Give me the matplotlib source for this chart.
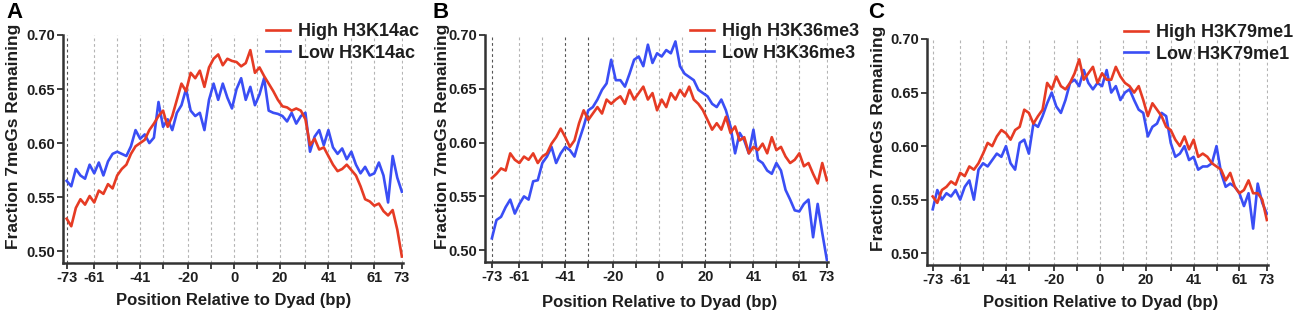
#!/usr/bin/env python3
import numpy as np
import matplotlib
matplotlib.use('Agg')
import matplotlib.pyplot as plt

plt.rcParams['font.family'] = ['Liberation Sans', 'DejaVu Sans']
plt.rcParams['font.weight'] = 'bold'

# position relative to dyad (bp), one reading every 2 bp
pos = list(range(-73, 74, 2))

xticks = [-73, -61, -51, -41, -31, -20, -10, 0, 10, 20, 31, 41, 51, 61, 73]
xtick_labels = ['-73', '-61', '', '-41', '', '-20', '', '0', '', '20', '', '41', '', '61', '73']
yticks = [0.50, 0.55, 0.60, 0.65, 0.70]

# panel A
high_k14 = [0.530, 0.523, 0.540, 0.548, 0.543, 0.551, 0.545, 0.556, 0.553, 0.562,
            0.558, 0.570, 0.576, 0.580, 0.590, 0.597, 0.600, 0.603, 0.612, 0.618,
            0.625, 0.630, 0.615, 0.625, 0.640, 0.655, 0.648, 0.665, 0.660, 0.667,
            0.652, 0.670, 0.678, 0.682, 0.672, 0.678, 0.676, 0.675, 0.671, 0.674,
            0.686, 0.665, 0.670, 0.662, 0.655, 0.648, 0.640, 0.634, 0.633, 0.630,
            0.632, 0.630, 0.622, 0.598, 0.604, 0.594, 0.596, 0.588, 0.580, 0.574,
            0.576, 0.580, 0.575, 0.570, 0.560, 0.548, 0.546, 0.542, 0.544, 0.537,
            0.533, 0.538, 0.520, 0.495]
low_k14 = [0.565, 0.560, 0.576, 0.570, 0.567, 0.580, 0.572, 0.582, 0.570, 0.583,
           0.590, 0.592, 0.590, 0.588, 0.597, 0.612, 0.604, 0.608, 0.600, 0.605,
           0.638, 0.615, 0.622, 0.612, 0.628, 0.635, 0.650, 0.630, 0.625, 0.628,
           0.612, 0.640, 0.655, 0.640, 0.655, 0.642, 0.632, 0.650, 0.660, 0.640,
           0.652, 0.635, 0.645, 0.660, 0.630, 0.628, 0.627, 0.625, 0.620, 0.628,
           0.618, 0.625, 0.628, 0.592, 0.606, 0.612, 0.598, 0.612, 0.596, 0.590,
           0.595, 0.585, 0.592, 0.580, 0.572, 0.578, 0.570, 0.572, 0.582, 0.570,
           0.545, 0.588, 0.568, 0.555]

# panel B
high_k36 = [0.567, 0.571, 0.576, 0.574, 0.590, 0.584, 0.581, 0.587, 0.584, 0.590,
            0.581, 0.587, 0.590, 0.599, 0.605, 0.613, 0.605, 0.596, 0.602, 0.618,
            0.630, 0.621, 0.627, 0.633, 0.627, 0.640, 0.636, 0.640, 0.643, 0.636,
            0.649, 0.640, 0.646, 0.652, 0.640, 0.646, 0.630, 0.640, 0.633, 0.646,
            0.640, 0.649, 0.643, 0.652, 0.640, 0.636, 0.630, 0.621, 0.612, 0.618,
            0.612, 0.624, 0.609, 0.615, 0.602, 0.605, 0.590, 0.596, 0.593, 0.599,
            0.590, 0.605, 0.593, 0.596, 0.587, 0.581, 0.584, 0.590, 0.578, 0.581,
            0.571, 0.562, 0.581, 0.565]
low_k36 = [0.511, 0.528, 0.531, 0.540, 0.547, 0.534, 0.543, 0.550, 0.547, 0.564,
           0.565, 0.581, 0.587, 0.596, 0.581, 0.590, 0.596, 0.593, 0.587, 0.602,
           0.615, 0.630, 0.633, 0.640, 0.649, 0.655, 0.677, 0.658, 0.658, 0.652,
           0.664, 0.677, 0.680, 0.671, 0.691, 0.674, 0.683, 0.680, 0.686, 0.683,
           0.694, 0.671, 0.664, 0.661, 0.658, 0.649, 0.646, 0.643, 0.636, 0.633,
           0.640, 0.630, 0.615, 0.590, 0.609, 0.602, 0.590, 0.612, 0.584, 0.581,
           0.574, 0.571, 0.581, 0.574, 0.556, 0.547, 0.537, 0.536, 0.543, 0.547,
           0.512, 0.543, 0.516, 0.491]

# panel C
high_k79 = [0.553, 0.547, 0.559, 0.562, 0.567, 0.564, 0.575, 0.572, 0.581, 0.578,
            0.584, 0.593, 0.603, 0.600, 0.609, 0.615, 0.612, 0.606, 0.615, 0.618,
            0.634, 0.631, 0.621, 0.628, 0.634, 0.659, 0.653, 0.665, 0.656, 0.653,
            0.659, 0.668, 0.681, 0.662, 0.668, 0.674, 0.659, 0.668, 0.662, 0.662,
            0.674, 0.665, 0.659, 0.656, 0.650, 0.656, 0.643, 0.628, 0.640, 0.634,
            0.628, 0.618, 0.615, 0.606, 0.600, 0.609, 0.597, 0.606, 0.590, 0.593,
            0.590, 0.584, 0.581, 0.578, 0.568, 0.575, 0.562, 0.556, 0.559, 0.568,
            0.556, 0.556, 0.550, 0.531]
low_k79 = [0.541, 0.559, 0.550, 0.556, 0.553, 0.559, 0.550, 0.562, 0.568, 0.550,
           0.578, 0.584, 0.581, 0.587, 0.593, 0.590, 0.600, 0.584, 0.578, 0.603,
           0.606, 0.593, 0.621, 0.618, 0.628, 0.640, 0.650, 0.637, 0.631, 0.643,
           0.659, 0.662, 0.656, 0.671, 0.659, 0.653, 0.659, 0.656, 0.671, 0.650,
           0.656, 0.643, 0.650, 0.653, 0.643, 0.634, 0.631, 0.609, 0.618, 0.621,
           0.631, 0.628, 0.603, 0.590, 0.593, 0.600, 0.587, 0.590, 0.578, 0.581,
           0.581, 0.584, 0.600, 0.575, 0.562, 0.565, 0.562, 0.556, 0.544, 0.556,
           0.523, 0.565, 0.547, 0.537]

panels = [
    ('A', high_k14, low_k14, 'High H3K14ac', 'Low H3K14ac'),
    ('B', high_k36, low_k36, 'High H3K36me3', 'Low H3K36me3'),
    ('C', high_k79, low_k79, 'High H3K79me1', 'Low H3K79me1'),
]

W, H = 1297, 312
# axes boxes in pixels: left, top, right, bottom
boxes = [(63, 35, 403, 263), (485, 35, 828, 262), (927, 39, 1268, 265)]
xlims = [(-74.6, 73.5), (-76.0, 73.5), (-75.5, 73.5)]
dark_grid = [[-73], [-73, -41, -31, 20], []]
letter_xy = [(6, 12), (432, 12), (868, 12)]
ylab_xy = [(14, 136), (443, 136), (878, 138)]
xlab_xy = [(234, 300), (660, 302), (1101, 303)]
legend_xy = [(266, 23), (690, 23), (1124, 24)]

red = '#e63b24'
blue = '#3a4ef5'
txt = '#1e1e1e'

fig = plt.figure(figsize=(W / 100, H / 100), dpi=100)

for i, (letter, hi, lo, hi_lab, lo_lab) in enumerate(panels):
    l, t, r, b = boxes[i]
    ax = fig.add_axes([l / W, 1 - b / H, (r - l) / W, (b - t) / H])
    for xt in xticks:
        c = '#555555' if xt in dark_grid[i] else '#b4b4b4'
        ax.axvline(xt, color=c, linestyle=(0, (2.5, 2.5)), linewidth=0.8, zorder=0)
    ax.plot(pos, lo, color=blue, linewidth=1.9, label=lo_lab, zorder=3)
    ax.plot(pos, hi, color=red, linewidth=1.9, label=hi_lab, zorder=4)

    ax.set_xlim(*xlims[i])
    ax.set_ylim(0.489, 0.70)
    ax.set_xticks(xticks)
    ax.set_xticklabels(xtick_labels)
    ax.set_yticks(yticks)
    ax.set_yticklabels(['%.2f' % v for v in yticks])
    ax.tick_params(direction='out', length=4, width=1.3, colors='#333333',
                   labelsize=10.5, labelcolor=txt, pad=2)
    for s in ['top', 'right']:
        ax.spines[s].set_visible(False)
    for s in ['left', 'bottom']:
        ax.spines[s].set_linewidth(1.8)
        ax.spines[s].set_color('#333333')

    handles, labels = ax.get_legend_handles_labels()
    lx, ly = legend_xy[i]
    ax.legend(handles[::-1], labels[::-1], loc='upper left',
              bbox_to_anchor=(lx / W, 1 - ly / H), bbox_transform=fig.transFigure,
              frameon=False, fontsize=13, handlelength=1.35, handletextpad=0.45,
              labelspacing=0.25, borderpad=0, borderaxespad=0)
    for tx in ax.get_legend().get_texts():
        tx.set_color(txt)

    fig.text(letter_xy[i][0] / W, 1 - letter_xy[i][1] / H, letter, fontsize=16,
             fontweight='bold', ha='left', va='center', color='black')
    fig.text(ylab_xy[i][0] / W, 1 - ylab_xy[i][1] / H, 'Fraction 7meGs Remaining',
             rotation=90, fontsize=12.5, ha='center', va='center', color=txt)
    fig.text(xlab_xy[i][0] / W, 1 - xlab_xy[i][1] / H, 'Position Relative to Dyad (bp)',
             fontsize=12, ha='center', va='center', color=txt)

fig.savefig('out.png', dpi=100)
